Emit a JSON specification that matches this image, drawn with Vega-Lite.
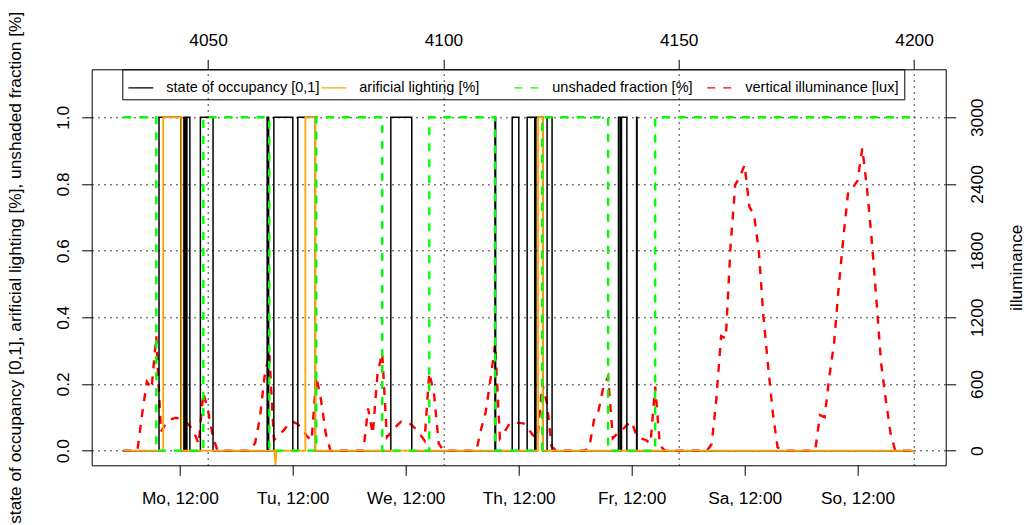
{
  "$schema": "https://vega.github.io/schema/vega-lite/v6.json",
  "width": 854,
  "height": 396,
  "autosize": "none",
  "padding": {"left": 91.7, "top": 69.3, "right": 83.3, "bottom": 59.7},
  "config": {
    "font": "Liberation Sans",
    "view": {"stroke": "black", "strokeWidth": 1},
    "axis": {
      "domain": false,
      "tickColor": "black",
      "tickSize": 10,
      "tickWidth": 1,
      "labelColor": "black",
      "labelFont": "Liberation Sans",
      "labelFontSize": 17.3,
      "titleColor": "black",
      "titleFont": "Liberation Sans",
      "titleFontSize": 17.3,
      "titleFontWeight": "normal",
      "gridColor": "black",
      "gridDash": [1.5, 4.5],
      "gridWidth": 1,
      "labelFlush": false,
      "labelOverlap": false
    },
    "legend": {
      "symbolType": "stroke",
      "symbolSize": 625,
      "symbolStrokeWidth": 1.2,
      "labelFont": "Liberation Sans",
      "labelFontSize": 14.5,
      "labelColor": "black",
      "labelOffset": 12,
      "labelLimit": 400,
      "strokeColor": "black",
      "padding": 5,
      "columnPadding": -3,
      "gridAlign": "all"
    }
  },
  "datasets": {
    "illuminance": [
      {"h":4032,"lux":0},{"h":4033,"lux":0},{"h":4034,"lux":0},{"h":4035,"lux":0},{"h":4036,"lux":330},{"h":4037,"lux":620},{"h":4038,"lux":560},{"h":4039,"lux":1030},{"h":4040,"lux":170},{"h":4041,"lux":240},{"h":4042,"lux":280},{"h":4043,"lux":295},{"h":4044,"lux":290},{"h":4045,"lux":265},{"h":4046,"lux":230},{"h":4047,"lux":170},{"h":4048,"lux":60},{"h":4049,"lux":520},{"h":4050,"lux":360},{"h":4051,"lux":130},{"h":4052,"lux":0},
      {"h":4053,"lux":0},{"h":4054,"lux":0},{"h":4055,"lux":0},{"h":4056,"lux":0},{"h":4057,"lux":0},{"h":4058,"lux":0},{"h":4059,"lux":0},{"h":4060,"lux":70},{"h":4061,"lux":290},{"h":4062,"lux":666},{"h":4063,"lux":880},{"h":4064,"lux":96},{"h":4065,"lux":140},{"h":4066,"lux":180},{"h":4067,"lux":230},{"h":4068,"lux":260},{"h":4069,"lux":240},{"h":4070,"lux":200},{"h":4071,"lux":130},{"h":4072,"lux":90},{"h":4073,"lux":666},{"h":4074,"lux":456},{"h":4075,"lux":156},{"h":4076,"lux":0},
      {"h":4077,"lux":0},{"h":4078,"lux":0},{"h":4079,"lux":0},{"h":4080,"lux":0},{"h":4081,"lux":0},{"h":4082,"lux":0},{"h":4083,"lux":0},{"h":4084,"lux":380},{"h":4085,"lux":150},{"h":4086,"lux":690},{"h":4087,"lux":880},{"h":4088,"lux":120},{"h":4089,"lux":170},{"h":4090,"lux":220},{"h":4091,"lux":260},{"h":4092,"lux":255},{"h":4093,"lux":240},{"h":4094,"lux":200},{"h":4095,"lux":150},{"h":4096,"lux":90},{"h":4097,"lux":700},{"h":4098,"lux":516},{"h":4099,"lux":66},{"h":4100,"lux":0},
      {"h":4101,"lux":0},{"h":4102,"lux":0},{"h":4103,"lux":0},{"h":4104,"lux":0},{"h":4105,"lux":0},{"h":4106,"lux":0},{"h":4107,"lux":0},{"h":4108,"lux":190},{"h":4109,"lux":350},{"h":4110,"lux":640},{"h":4111,"lux":960},{"h":4112,"lux":110},{"h":4113,"lux":170},{"h":4114,"lux":240},{"h":4115,"lux":250},{"h":4116,"lux":250},{"h":4117,"lux":246},{"h":4118,"lux":200},{"h":4119,"lux":140},{"h":4120,"lux":110},{"h":4121,"lux":606},{"h":4122,"lux":426},{"h":4123,"lux":36},{"h":4124,"lux":0},
      {"h":4125,"lux":0},{"h":4126,"lux":0},{"h":4127,"lux":0},{"h":4128,"lux":0},{"h":4129,"lux":0},{"h":4130,"lux":0},{"h":4131,"lux":30},{"h":4132,"lux":276},{"h":4133,"lux":366},{"h":4134,"lux":576},{"h":4135,"lux":666},{"h":4136,"lux":111},{"h":4137,"lux":156},{"h":4138,"lux":186},{"h":4139,"lux":231},{"h":4140,"lux":261},{"h":4141,"lux":140},{"h":4142,"lux":110},{"h":4143,"lux":96},{"h":4144,"lux":66},{"h":4145,"lux":576},{"h":4146,"lux":50},{"h":4147,"lux":0},
      {"h":4148,"lux":0},{"h":4149,"lux":0},{"h":4150,"lux":0},{"h":4151,"lux":0},{"h":4152,"lux":0},{"h":4153,"lux":0},{"h":4154,"lux":0},{"h":4155,"lux":0},{"h":4156,"lux":0},{"h":4157,"lux":60},{"h":4158,"lux":470},{"h":4159,"lux":1030},{"h":4160,"lux":1010},{"h":4161,"lux":1836},{"h":4162,"lux":2391},{"h":4163,"lux":2466},{"h":4164,"lux":2571},{"h":4165,"lux":2196},{"h":4166,"lux":2121},{"h":4167,"lux":1806},{"h":4168,"lux":1206},{"h":4169,"lux":756},{"h":4170,"lux":336},{"h":4171,"lux":30},{"h":4172,"lux":0},
      {"h":4173,"lux":0},{"h":4174,"lux":0},{"h":4175,"lux":0},{"h":4176,"lux":0},{"h":4177,"lux":0},{"h":4178,"lux":0},{"h":4179,"lux":0},{"h":4180,"lux":320},{"h":4181,"lux":300},{"h":4182,"lux":666},{"h":4183,"lux":966},{"h":4184,"lux":1476},{"h":4185,"lux":1926},{"h":4186,"lux":2331},{"h":4187,"lux":2370},{"h":4188,"lux":2430},{"h":4189,"lux":2721},{"h":4190,"lux":2361},{"h":4191,"lux":1896},{"h":4192,"lux":1356},{"h":4193,"lux":786},{"h":4194,"lux":456},{"h":4195,"lux":156},{"h":4196,"lux":0},
      {"h":4197,"lux":0},{"h":4198,"lux":0},{"h":4199,"lux":0},{"h":4200,"lux":0}
    ],
    "occupancy": [
      {"h":4032,"v":0},{"h":4039.58,"v":1},{"h":4044.24,"v":0},{"h":4044.87,"v":1},{"h":4045.19,"v":0},{"h":4045.51,"v":1},{"h":4046.14,"v":0},{"h":4048.37,"v":1},{"h":4051.06,"v":0},
      {"h":4062.56,"v":1},{"h":4062.88,"v":0},{"h":4063.98,"v":1},{"h":4068.01,"v":0},{"h":4069.07,"v":1},{"h":4072.8,"v":0},
      {"h":4088.83,"v":1},{"h":4093.28,"v":0},
      {"h":4110.95,"v":1},{"h":4111.1,"v":0},{"h":4114.62,"v":1},{"h":4116.02,"v":0},{"h":4117.8,"v":1},{"h":4119.41,"v":0},{"h":4119.66,"v":1},{"h":4121.1,"v":0},{"h":4122.03,"v":1},{"h":4123.09,"v":0},
      {"h":4137.2,"v":1},{"h":4137.56,"v":0},{"h":4137.84,"v":1},{"h":4138.98,"v":0},{"h":4141.05,"v":1},{"h":4141.15,"v":0},
      {"h":4200,"v":0}
    ],
    "lighting": [
      {"i":0,"h":4032,"v":0},{"i":1,"h":4040.47,"v":0},{"i":2,"h":4040.47,"v":1},{"i":3,"h":4044.34,"v":1},{"i":4,"h":4044.34,"v":0},
      {"i":5,"h":4064.1,"v":0},{"i":6,"h":4064.32,"v":-0.043},{"i":7,"h":4064.55,"v":0},
      {"i":8,"h":4070.68,"v":0},{"i":9,"h":4070.68,"v":1},{"i":10,"h":4072.8,"v":1},{"i":11,"h":4072.8,"v":0},
      {"i":12,"h":4120.13,"v":0},{"i":13,"h":4120.13,"v":1},{"i":14,"h":4121.1,"v":1},{"i":15,"h":4121.1,"v":0},
      {"i":16,"h":4200,"v":0}
    ],
    "unshaded": [
      {"h":4032,"v":1},{"h":4039,"v":0},{"h":4049,"v":1},{"h":4063,"v":0},{"h":4073,"v":1},{"h":4087,"v":0},{"h":4097,"v":1},{"h":4111,"v":0},{"h":4121,"v":1},{"h":4135,"v":0},{"h":4145,"v":1},{"h":4200,"v":1}
    ]
  },
  "layer": [
    {
      "data": {"name": "illuminance"},
      "mark": {"type": "line", "strokeWidth": 2.4},
      "encoding": {
        "x": {
          "field": "h", "type": "quantitative",
          "scale": {"domain": [4025.28, 4206.72], "nice": false, "zero": false},
          "axis": {"orient": "top", "values": [4050, 4100, 4150, 4200], "format": "d", "grid": true, "title": null, "labelAngle": 0, "labelAlign": "center", "labelBaseline": "alphabetic", "labelPadding": 14.3}
        },
        "y": {
          "field": "lux", "type": "quantitative",
          "scale": {"domain": [-132, 3432], "nice": false, "zero": false},
          "axis": {"orient": "right", "values": [0, 600, 1200, 1800, 2400, 3000], "format": "d", "grid": false, "labelAngle": 270, "labelAlign": "center", "labelBaseline": "alphabetic", "labelPadding": 26.3, "title": "illuminance", "titleAngle": 270, "titleAlign": "center", "titleBaseline": "alphabetic", "titleX": 76, "titleY": 198}
        },
        "color": {
          "datum": "vertical illuminance [lux]",
          "scale": {"domain": ["state of occupancy [0,1]", "arificial lighting [%]", "unshaded fraction [%]", "vertical illuminance [lux]"], "range": ["#000000", "#ffa500", "#00ff00", "#ff0000"]},
          "legend": {"title": null, "orient": "none", "legendX": 30.6, "legendY": 0, "direction": "horizontal", "columns": 4}
        },
        "strokeDash": {
          "datum": "vertical illuminance [lux]",
          "scale": {"domain": ["state of occupancy [0,1]", "arificial lighting [%]", "unshaded fraction [%]", "vertical illuminance [lux]"], "range": [[1, 0], [1, 0], [8, 8], [8, 8]]},
          "legend": {"title": null, "orient": "none", "legendX": 30.6, "legendY": 0, "direction": "horizontal", "columns": 4}
        }
      }
    },
    {
      "data": {"name": "occupancy"},
      "mark": {"type": "line", "interpolate": "step-after", "strokeWidth": 1.5},
      "encoding": {
        "x": {
          "field": "h", "type": "quantitative",
          "scale": {"domain": [4025.28, 4206.72], "nice": false, "zero": false},
          "axis": {"orient": "bottom", "values": [4044, 4068, 4092, 4116, 4140, 4164, 4188], "labelExpr": "['Mo','Tu','We','Th','Fr','Sa','So'][round((datum.value - 4044) / 24)] + ', 12:00'", "grid": false, "title": null, "labelAngle": 0, "labelAlign": "center", "labelBaseline": "alphabetic", "labelPadding": 28.1}
        },
        "y": {
          "field": "v", "type": "quantitative",
          "scale": {"domain": [-0.044, 1.144], "nice": false, "zero": false},
          "axis": {"orient": "left", "values": [0, 0.2, 0.4, 0.6, 0.8, 1], "format": ".1f", "grid": true, "labelAngle": 270, "labelAlign": "center", "labelBaseline": "alphabetic", "labelPadding": 13.4, "title": "state of occupancy [0,1], arificial lighting [%], unshaded fraction [%]", "titleAngle": 270, "titleAlign": "center", "titleBaseline": "alphabetic", "titleX": -71.7, "titleY": 198}
        },
        "color": {
          "datum": "state of occupancy [0,1]",
          "scale": {"domain": ["state of occupancy [0,1]", "arificial lighting [%]", "unshaded fraction [%]", "vertical illuminance [lux]"], "range": ["#000000", "#ffa500", "#00ff00", "#ff0000"]},
          "legend": {"title": null, "orient": "none", "legendX": 30.6, "legendY": 0, "direction": "horizontal", "columns": 4}
        },
        "strokeDash": {
          "datum": "state of occupancy [0,1]",
          "scale": {"domain": ["state of occupancy [0,1]", "arificial lighting [%]", "unshaded fraction [%]", "vertical illuminance [lux]"], "range": [[1, 0], [1, 0], [8, 8], [8, 8]]},
          "legend": {"title": null, "orient": "none", "legendX": 30.6, "legendY": 0, "direction": "horizontal", "columns": 4}
        }
      }
    },
    {
      "data": {"name": "lighting"},
      "mark": {"type": "line", "strokeWidth": 1.8},
      "encoding": {
        "x": {"field": "h", "type": "quantitative", "scale": {"domain": [4025.28, 4206.72], "nice": false, "zero": false}, "axis": null},
        "y": {"field": "v", "type": "quantitative", "scale": {"domain": [-0.044, 1.144], "nice": false, "zero": false}, "axis": null},
        "order": {"field": "i", "type": "quantitative"},
        "color": {
          "datum": "arificial lighting [%]",
          "scale": {"domain": ["state of occupancy [0,1]", "arificial lighting [%]", "unshaded fraction [%]", "vertical illuminance [lux]"], "range": ["#000000", "#ffa500", "#00ff00", "#ff0000"]},
          "legend": {"title": null, "orient": "none", "legendX": 30.6, "legendY": 0, "direction": "horizontal", "columns": 4}
        },
        "strokeDash": {
          "datum": "arificial lighting [%]",
          "scale": {"domain": ["state of occupancy [0,1]", "arificial lighting [%]", "unshaded fraction [%]", "vertical illuminance [lux]"], "range": [[1, 0], [1, 0], [8, 8], [8, 8]]},
          "legend": {"title": null, "orient": "none", "legendX": 30.6, "legendY": 0, "direction": "horizontal", "columns": 4}
        }
      }
    },
    {
      "data": {"name": "unshaded"},
      "mark": {"type": "line", "interpolate": "step-after", "strokeWidth": 2.4},
      "encoding": {
        "x": {"field": "h", "type": "quantitative", "scale": {"domain": [4025.28, 4206.72], "nice": false, "zero": false}, "axis": null},
        "y": {"field": "v", "type": "quantitative", "scale": {"domain": [-0.044, 1.144], "nice": false, "zero": false}, "axis": null},
        "color": {
          "datum": "unshaded fraction [%]",
          "scale": {"domain": ["state of occupancy [0,1]", "arificial lighting [%]", "unshaded fraction [%]", "vertical illuminance [lux]"], "range": ["#000000", "#ffa500", "#00ff00", "#ff0000"]},
          "legend": {"title": null, "orient": "none", "legendX": 30.6, "legendY": 0, "direction": "horizontal", "columns": 4}
        },
        "strokeDash": {
          "datum": "unshaded fraction [%]",
          "scale": {"domain": ["state of occupancy [0,1]", "arificial lighting [%]", "unshaded fraction [%]", "vertical illuminance [lux]"], "range": [[1, 0], [1, 0], [8, 8], [8, 8]]},
          "legend": {"title": null, "orient": "none", "legendX": 30.6, "legendY": 0, "direction": "horizontal", "columns": 4}
        }
      }
    }
  ],
  "resolve": {"scale": {"y": "independent"}, "axis": {"x": "independent"}}
}
